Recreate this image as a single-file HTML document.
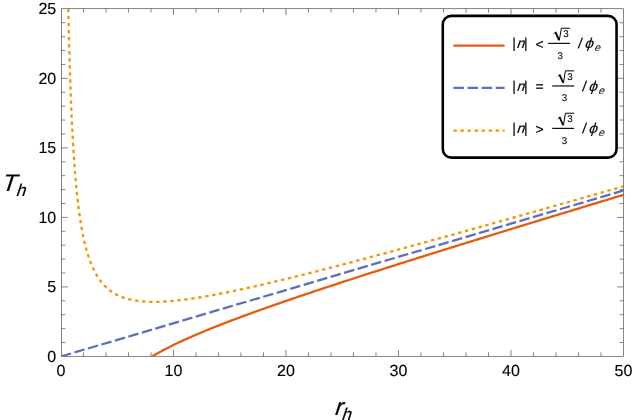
<!DOCTYPE html><html><head><meta charset="utf-8"><title>plot</title><style>html,body{margin:0;padding:0;background:#fff}svg{display:block;will-change:transform}text{font-family:"Liberation Sans",sans-serif;fill:#000;text-rendering:geometricPrecision}</style></head><body>
<svg width="634" height="420" viewBox="0 0 634 420">
<rect width="634" height="420" fill="#fff"/>
<clipPath id="c"><rect x="61.45" y="8.70" width="562.05" height="347.60"/></clipPath>
<g fill="none" stroke-width="2.3" stroke-linecap="butt" stroke-linejoin="round" clip-path="url(#c)">
<path d="M152.14 356.45 L152.14 356.45 L152.15 356.44 L152.17 356.43 L152.19 356.42 L152.21 356.41 L152.25 356.39 L152.28 356.36 L152.33 356.34 L152.38 356.31 L152.43 356.28 L152.50 356.24 L152.56 356.20 L152.64 356.16 L152.72 356.11 L152.80 356.06 L152.89 356.01 L152.99 355.95 L153.09 355.89 L153.20 355.83 L153.32 355.76 L153.44 355.69 L153.57 355.62 L153.70 355.54 L153.84 355.46 L153.98 355.37 L154.13 355.29 L154.29 355.20 L154.45 355.10 L154.62 355.01 L154.79 354.91 L154.97 354.80 L155.16 354.70 L155.35 354.59 L155.54 354.48 L155.75 354.36 L155.96 354.24 L156.17 354.12 L156.39 354.00 L156.62 353.87 L156.85 353.74 L157.09 353.60 L157.34 353.47 L157.59 353.33 L157.84 353.18 L158.10 353.04 L158.37 352.89 L158.65 352.74 L158.93 352.58 L159.21 352.43 L159.50 352.27 L159.80 352.10 L160.11 351.94 L160.41 351.77 L160.73 351.60 L161.05 351.43 L161.38 351.25 L161.71 351.07 L162.05 350.89 L162.39 350.70 L162.74 350.52 L163.10 350.33 L163.46 350.14 L163.83 349.94 L164.21 349.75 L164.59 349.55 L164.97 349.34 L165.36 349.14 L165.76 348.93 L166.17 348.72 L166.57 348.51 L166.99 348.30 L167.41 348.08 L167.84 347.87 L168.27 347.65 L168.71 347.42 L169.16 347.20 L169.61 346.97 L170.06 346.74 L170.53 346.51 L170.99 346.28 L171.47 346.04 L171.95 345.80 L172.43 345.56 L172.93 345.32 L173.42 345.08 L173.93 344.83 L174.44 344.58 L174.95 344.33 L175.47 344.08 L176.00 343.83 L176.54 343.57 L177.07 343.32 L177.62 343.06 L178.17 342.79 L178.73 342.53 L179.29 342.27 L179.86 342.00 L180.43 341.73 L181.01 341.46 L181.60 341.19 L182.19 340.91 L182.79 340.64 L183.39 340.36 L184.00 340.08 L184.62 339.80 L185.24 339.52 L185.87 339.23 L186.50 338.95 L187.14 338.66 L187.79 338.37 L188.44 338.08 L189.09 337.79 L189.76 337.49 L190.43 337.20 L191.10 336.90 L191.78 336.60 L192.47 336.30 L193.16 336.00 L193.86 335.70 L194.56 335.39 L195.27 335.08 L195.99 334.78 L196.71 334.47 L197.44 334.16 L198.17 333.84 L198.91 333.53 L199.66 333.21 L200.41 332.90 L201.16 332.58 L201.93 332.26 L202.70 331.94 L203.47 331.61 L204.25 331.29 L205.04 330.96 L205.83 330.64 L206.63 330.31 L207.43 329.98 L208.24 329.65 L209.06 329.32 L209.88 328.98 L210.71 328.65 L211.54 328.31 L212.38 327.97 L213.23 327.63 L214.08 327.29 L214.94 326.95 L215.80 326.61 L216.67 326.26 L217.54 325.91 L218.42 325.57 L219.31 325.22 L220.20 324.87 L221.10 324.52 L222.01 324.16 L222.92 323.81 L223.83 323.45 L224.76 323.10 L225.68 322.74 L226.62 322.38 L227.56 322.02 L228.50 321.66 L229.45 321.29 L230.41 320.93 L231.37 320.56 L232.34 320.19 L233.32 319.83 L234.30 319.46 L235.29 319.08 L236.28 318.71 L237.28 318.34 L238.28 317.96 L239.29 317.59 L240.31 317.21 L241.33 316.83 L242.36 316.45 L243.39 316.07 L244.43 315.68 L245.48 315.30 L246.53 314.91 L247.59 314.53 L248.65 314.14 L249.72 313.75 L250.80 313.36 L251.88 312.97 L252.97 312.57 L254.06 312.18 L255.16 311.78 L256.26 311.38 L257.37 310.99 L258.49 310.59 L259.61 310.18 L260.74 309.78 L261.87 309.38 L263.02 308.97 L264.16 308.57 L265.31 308.16 L266.47 307.75 L267.63 307.34 L268.80 306.93 L269.98 306.51 L271.16 306.10 L272.35 305.68 L273.54 305.27 L274.74 304.85 L275.95 304.43 L277.16 304.01 L278.37 303.58 L279.60 303.16 L280.82 302.73 L282.06 302.31 L283.30 301.88 L284.54 301.45 L285.80 301.02 L287.05 300.59 L288.32 300.16 L289.59 299.72 L290.86 299.29 L292.15 298.85 L293.43 298.41 L294.73 297.97 L296.03 297.53 L297.33 297.09 L298.64 296.64 L299.96 296.20 L301.28 295.75 L302.61 295.30 L303.94 294.85 L305.28 294.40 L306.63 293.95 L307.98 293.49 L309.34 293.04 L310.70 292.58 L312.07 292.13 L313.45 291.67 L314.83 291.21 L316.22 290.74 L317.61 290.28 L319.01 289.82 L320.42 289.35 L321.83 288.88 L323.25 288.41 L324.67 287.94 L326.10 287.47 L327.53 287.00 L328.97 286.52 L330.42 286.05 L331.87 285.57 L333.33 285.09 L334.79 284.61 L336.26 284.13 L337.74 283.65 L339.22 283.16 L340.71 282.68 L342.20 282.19 L343.70 281.70 L345.21 281.21 L346.72 280.72 L348.24 280.23 L349.76 279.73 L351.29 279.24 L352.82 278.74 L354.36 278.24 L355.91 277.74 L357.46 277.24 L359.02 276.73 L360.59 276.23 L362.16 275.72 L363.73 275.22 L365.32 274.71 L366.90 274.20 L368.50 273.69 L370.10 273.17 L371.70 272.66 L373.31 272.14 L374.93 271.62 L376.55 271.10 L378.18 270.58 L379.82 270.06 L381.46 269.54 L383.11 269.01 L384.76 268.49 L386.42 267.96 L388.08 267.43 L389.75 266.90 L391.43 266.37 L393.11 265.83 L394.80 265.30 L396.49 264.76 L398.19 264.22 L399.90 263.68 L401.61 263.14 L403.33 262.60 L405.05 262.05 L406.78 261.51 L408.52 260.96 L410.26 260.41 L412.00 259.86 L413.76 259.31 L415.51 258.75 L417.28 258.20 L419.05 257.64 L420.83 257.09 L422.61 256.53 L424.40 255.96 L426.19 255.40 L427.99 254.84 L429.80 254.27 L431.61 253.71 L433.43 253.14 L435.25 252.57 L437.08 252.00 L438.92 251.42 L440.76 250.85 L442.60 250.27 L444.46 249.69 L446.32 249.11 L448.18 248.53 L450.05 247.95 L451.93 247.37 L453.81 246.78 L455.70 246.19 L457.59 245.61 L459.49 245.02 L461.40 244.42 L463.31 243.83 L465.23 243.24 L467.15 242.64 L469.08 242.04 L471.02 241.44 L472.96 240.84 L474.91 240.24 L476.86 239.63 L478.82 239.03 L480.78 238.42 L482.75 237.81 L484.73 237.20 L486.71 236.59 L488.70 235.98 L490.70 235.36 L492.70 234.74 L494.70 234.13 L496.72 233.51 L498.73 232.88 L500.76 232.26 L502.79 231.64 L504.82 231.01 L506.86 230.38 L508.91 229.75 L510.97 229.12 L513.02 228.49 L515.09 227.86 L517.16 227.22 L519.24 226.58 L521.32 225.95 L523.41 225.31 L525.50 224.66 L527.60 224.02 L529.71 223.37 L531.82 222.73 L533.94 222.08 L536.07 221.43 L538.20 220.78 L540.33 220.12 L542.47 219.47 L544.62 218.81 L546.77 218.16 L548.93 217.50 L551.10 216.84 L553.27 216.17 L555.45 215.51 L557.63 214.84 L559.82 214.18 L562.01 213.51 L564.21 212.84 L566.42 212.16 L568.63 211.49 L570.85 210.81 L573.08 210.14 L575.31 209.46 L577.54 208.78 L579.78 208.09 L582.03 207.41 L584.29 206.73 L586.55 206.04 L588.81 205.35 L591.08 204.66 L593.36 203.97 L595.64 203.28 L597.93 202.58 L600.23 201.88 L602.53 201.19 L604.83 200.49 L607.15 199.78 L609.47 199.08 L611.79 198.38 L614.12 197.67 L616.46 196.96 L618.80 196.25 L621.15 195.54 L623.50 194.83" stroke="#E65C0E"/>
<path d="M60.97 356.45 L623.50 190.47" stroke="#5D6DC1" stroke-dasharray="10.5 3.56"/>
<path d="M68.29 8.82 L68.29 8.99 L68.30 9.47 L68.32 10.28 L68.34 11.41 L68.37 12.85 L68.41 14.59 L68.46 16.62 L68.51 18.94 L68.57 21.52 L68.63 24.37 L68.71 27.45 L68.78 30.77 L68.87 34.29 L68.97 38.01 L69.07 41.91 L69.17 45.97 L69.29 50.18 L69.41 54.52 L69.54 58.97 L69.67 63.51 L69.82 68.14 L69.96 72.84 L70.12 77.59 L70.28 82.37 L70.45 87.19 L70.63 92.02 L70.81 96.85 L71.01 101.68 L71.20 106.48 L71.41 111.27 L71.62 116.02 L71.84 120.73 L72.06 125.39 L72.30 129.99 L72.54 134.54 L72.78 139.03 L73.04 143.44 L73.30 147.79 L73.56 152.06 L73.84 156.26 L74.12 160.37 L74.41 164.41 L74.70 168.36 L75.00 172.23 L75.31 176.02 L75.63 179.72 L75.95 183.34 L76.28 186.88 L76.62 190.33 L76.96 193.70 L77.31 196.98 L77.67 200.19 L78.03 203.31 L78.40 206.36 L78.78 209.32 L79.17 212.21 L79.56 215.03 L79.96 217.77 L80.36 220.43 L80.78 223.03 L81.20 225.55 L81.62 228.01 L82.06 230.40 L82.50 232.72 L82.95 234.98 L83.40 237.18 L83.86 239.31 L84.33 241.39 L84.81 243.41 L85.29 245.37 L85.78 247.27 L86.27 249.13 L86.78 250.92 L87.29 252.67 L87.80 254.37 L88.33 256.02 L88.86 257.62 L89.40 259.18 L89.94 260.69 L90.49 262.16 L91.05 263.58 L91.62 264.97 L92.19 266.31 L92.77 267.61 L93.36 268.88 L93.95 270.11 L94.55 271.30 L95.16 272.46 L95.77 273.58 L96.39 274.67 L97.02 275.73 L97.66 276.76 L98.30 277.75 L98.95 278.72 L99.60 279.66 L100.27 280.56 L100.94 281.45 L101.61 282.30 L102.30 283.13 L102.99 283.93 L103.68 284.70 L104.39 285.46 L105.10 286.19 L105.82 286.89 L106.54 287.57 L107.28 288.24 L108.01 288.88 L108.76 289.49 L109.51 290.09 L110.27 290.67 L111.04 291.23 L111.81 291.77 L112.59 292.29 L113.38 292.80 L114.18 293.28 L114.98 293.75 L115.79 294.20 L116.60 294.64 L117.43 295.06 L118.25 295.46 L119.09 295.85 L119.93 296.22 L120.78 296.58 L121.64 296.93 L122.51 297.26 L123.38 297.58 L124.25 297.88 L125.14 298.17 L126.03 298.45 L126.93 298.71 L127.84 298.96 L128.75 299.20 L129.67 299.43 L130.59 299.65 L131.53 299.85 L132.47 300.05 L133.42 300.23 L134.37 300.40 L135.33 300.56 L136.30 300.72 L137.27 300.86 L138.26 300.99 L139.25 301.11 L140.24 301.22 L141.24 301.33 L142.25 301.42 L143.27 301.51 L144.29 301.58 L145.32 301.65 L146.36 301.71 L147.41 301.76 L148.46 301.80 L149.52 301.83 L150.58 301.86 L151.65 301.87 L152.73 301.88 L153.82 301.89 L154.91 301.88 L156.01 301.87 L157.12 301.85 L158.23 301.82 L159.35 301.79 L160.48 301.75 L161.62 301.70 L162.76 301.64 L163.91 301.58 L165.06 301.52 L166.23 301.44 L167.39 301.36 L168.57 301.27 L169.75 301.18 L170.94 301.08 L172.14 300.98 L173.35 300.87 L174.56 300.75 L175.77 300.63 L177.00 300.50 L178.23 300.36 L179.47 300.22 L180.72 300.08 L181.97 299.93 L183.23 299.77 L184.50 299.61 L185.77 299.45 L187.05 299.27 L188.34 299.10 L189.63 298.92 L190.93 298.73 L192.24 298.54 L193.56 298.34 L194.88 298.14 L196.21 297.93 L197.54 297.72 L198.89 297.51 L200.24 297.29 L201.59 297.06 L202.96 296.84 L204.33 296.60 L205.70 296.36 L207.09 296.12 L208.48 295.88 L209.88 295.62 L211.28 295.37 L212.70 295.11 L214.12 294.85 L215.54 294.58 L216.98 294.31 L218.42 294.03 L219.86 293.75 L221.32 293.47 L222.78 293.18 L224.25 292.89 L225.72 292.59 L227.20 292.29 L228.69 291.99 L230.19 291.68 L231.69 291.37 L233.20 291.05 L234.71 290.74 L236.24 290.41 L237.77 290.09 L239.31 289.76 L240.85 289.43 L242.40 289.09 L243.96 288.75 L245.52 288.40 L247.10 288.06 L248.67 287.71 L250.26 287.35 L251.85 286.99 L253.45 286.63 L255.06 286.27 L256.67 285.90 L258.29 285.53 L259.92 285.16 L261.56 284.78 L263.20 284.40 L264.85 284.01 L266.50 283.62 L268.16 283.23 L269.83 282.84 L271.51 282.44 L273.19 282.04 L274.88 281.64 L276.58 281.23 L278.28 280.82 L279.99 280.41 L281.71 279.99 L283.43 279.57 L285.17 279.15 L286.90 278.73 L288.65 278.30 L290.40 277.87 L292.16 277.43 L293.93 276.99 L295.70 276.55 L297.48 276.11 L299.27 275.66 L301.06 275.22 L302.86 274.76 L304.67 274.31 L306.49 273.85 L308.31 273.39 L310.14 272.93 L311.97 272.46 L313.82 271.99 L315.66 271.52 L317.52 271.04 L319.38 270.57 L321.25 270.09 L323.13 269.60 L325.02 269.12 L326.91 268.63 L328.81 268.14 L330.71 267.64 L332.62 267.14 L334.54 266.64 L336.47 266.14 L338.40 265.64 L340.34 265.13 L342.29 264.62 L344.24 264.10 L346.20 263.59 L348.17 263.07 L350.14 262.55 L352.12 262.02 L354.11 261.50 L356.11 260.97 L358.11 260.44 L360.12 259.90 L362.14 259.36 L364.16 258.82 L366.19 258.28 L368.23 257.74 L370.27 257.19 L372.32 256.64 L374.38 256.09 L376.44 255.53 L378.51 254.97 L380.59 254.41 L382.68 253.85 L384.77 253.28 L386.87 252.72 L388.98 252.15 L391.09 251.57 L393.21 251.00 L395.34 250.42 L397.47 249.84 L399.61 249.25 L401.76 248.67 L403.92 248.08 L406.08 247.49 L408.25 246.90 L410.42 246.30 L412.61 245.70 L414.79 245.10 L416.99 244.50 L419.19 243.90 L421.41 243.29 L423.62 242.68 L425.85 242.07 L428.08 241.45 L430.32 240.83 L432.56 240.21 L434.81 239.59 L437.07 238.97 L439.34 238.34 L441.61 237.71 L443.89 237.08 L446.18 236.44 L448.47 235.81 L450.77 235.17 L453.08 234.53 L455.39 233.88 L457.72 233.24 L460.04 232.59 L462.38 231.94 L464.72 231.28 L467.07 230.63 L469.43 229.97 L471.79 229.31 L474.16 228.65 L476.54 227.98 L478.92 227.31 L481.31 226.64 L483.71 225.97 L486.12 225.30 L488.53 224.62 L490.95 223.94 L493.37 223.26 L495.80 222.58 L498.24 221.89 L500.69 221.20 L503.14 220.51 L505.60 219.82 L508.07 219.12 L510.55 218.43 L513.03 217.73 L515.51 217.02 L518.01 216.32 L520.51 215.61 L523.02 214.90 L525.54 214.19 L528.06 213.48 L530.59 212.76 L533.12 212.05 L535.67 211.32 L538.22 210.60 L540.78 209.88 L543.34 209.15 L545.91 208.42 L548.49 207.69 L551.08 206.95 L553.67 206.22 L556.27 205.48 L558.87 204.74 L561.49 204.00 L564.11 203.25 L566.73 202.50 L569.37 201.75 L572.01 201.00 L574.65 200.25 L577.31 199.49 L579.97 198.73 L582.64 197.97 L585.32 197.21 L588.00 196.44 L590.69 195.67 L593.38 194.90 L596.09 194.13 L598.80 193.36 L601.51 192.58 L604.24 191.80 L606.97 191.02 L609.71 190.24 L612.45 189.45 L615.20 188.67 L617.96 187.88 L620.73 187.08 L623.50 186.29" stroke="#F19700" stroke-dasharray="3.4 3.65"/>
</g>
<g stroke="#505050" fill="none">
<rect x="61.45" y="8.70" width="562.05" height="347.60" stroke-width="0.7"/>
<path d="M83.47 356.30 v-3.90 M83.47 8.70 v3.90 M105.97 356.30 v-3.90 M105.97 8.70 v3.90 M128.47 356.30 v-3.90 M128.47 8.70 v3.90 M150.97 356.30 v-3.90 M150.97 8.70 v3.90 M173.48 356.30 v-6.40 M173.48 8.70 v6.40 M195.98 356.30 v-3.90 M195.98 8.70 v3.90 M218.48 356.30 v-3.90 M218.48 8.70 v3.90 M240.98 356.30 v-3.90 M240.98 8.70 v3.90 M263.48 356.30 v-3.90 M263.48 8.70 v3.90 M285.98 356.30 v-6.40 M285.98 8.70 v6.40 M308.48 356.30 v-3.90 M308.48 8.70 v3.90 M330.98 356.30 v-3.90 M330.98 8.70 v3.90 M353.49 356.30 v-3.90 M353.49 8.70 v3.90 M375.99 356.30 v-3.90 M375.99 8.70 v3.90 M398.49 356.30 v-6.40 M398.49 8.70 v6.40 M420.99 356.30 v-3.90 M420.99 8.70 v3.90 M443.49 356.30 v-3.90 M443.49 8.70 v3.90 M465.99 356.30 v-3.90 M465.99 8.70 v3.90 M488.49 356.30 v-3.90 M488.49 8.70 v3.90 M510.99 356.30 v-6.40 M510.99 8.70 v6.40 M533.50 356.30 v-3.90 M533.50 8.70 v3.90 M556.00 356.30 v-3.90 M556.00 8.70 v3.90 M578.50 356.30 v-3.90 M578.50 8.70 v3.90 M601.00 356.30 v-3.90 M601.00 8.70 v3.90 M61.45 342.54 h3.90 M623.50 342.54 h-3.90 M61.45 328.64 h3.90 M623.50 328.64 h-3.90 M61.45 314.73 h3.90 M623.50 314.73 h-3.90 M61.45 300.83 h3.90 M623.50 300.83 h-3.90 M61.45 286.92 h6.40 M623.50 286.92 h-6.40 M61.45 273.02 h3.90 M623.50 273.02 h-3.90 M61.45 259.11 h3.90 M623.50 259.11 h-3.90 M61.45 245.21 h3.90 M623.50 245.21 h-3.90 M61.45 231.30 h3.90 M623.50 231.30 h-3.90 M61.45 217.40 h6.40 M623.50 217.40 h-6.40 M61.45 203.49 h3.90 M623.50 203.49 h-3.90 M61.45 189.59 h3.90 M623.50 189.59 h-3.90 M61.45 175.68 h3.90 M623.50 175.68 h-3.90 M61.45 161.78 h3.90 M623.50 161.78 h-3.90 M61.45 147.87 h6.40 M623.50 147.87 h-6.40 M61.45 133.97 h3.90 M623.50 133.97 h-3.90 M61.45 120.06 h3.90 M623.50 120.06 h-3.90 M61.45 106.16 h3.90 M623.50 106.16 h-3.90 M61.45 92.25 h3.90 M623.50 92.25 h-3.90 M61.45 78.35 h6.40 M623.50 78.35 h-6.40 M61.45 64.44 h3.90 M623.50 64.44 h-3.90 M61.45 50.54 h3.90 M623.50 50.54 h-3.90 M61.45 36.63 h3.90 M623.50 36.63 h-3.90 M61.45 22.73 h3.90 M623.50 22.73 h-3.90" stroke-width="0.7"/>
</g>
<g font-size="16" stroke="#000" stroke-width="0.12">
<text x="60.97" y="375.8" text-anchor="middle">0</text>
<text x="173.48" y="375.8" text-anchor="middle">10</text>
<text x="285.98" y="375.8" text-anchor="middle">20</text>
<text x="398.49" y="375.8" text-anchor="middle">30</text>
<text x="510.99" y="375.8" text-anchor="middle">40</text>
<text x="623.50" y="375.8" text-anchor="middle">50</text>
<text x="56.2" y="361.90" text-anchor="end">0</text>
<text x="56.2" y="292.37" text-anchor="end">5</text>
<text x="56.2" y="222.85" text-anchor="end">10</text>
<text x="56.2" y="153.32" text-anchor="end">15</text>
<text x="56.2" y="83.80" text-anchor="end">20</text>
<text x="56.2" y="14.27" text-anchor="end">25</text>
</g>
<text transform="translate(0.60 190.80) skewX(-18)" font-size="24" stroke="#000" stroke-width="0.2">T</text><text transform="translate(15.40 195.80) skewX(-18)" font-size="17" stroke="#000" stroke-width="0.2">h</text>
<text transform="translate(333.50 414.50) skewX(-18)" font-size="24" stroke="#000" stroke-width="0.2">r</text><text transform="translate(341.00 419.60) skewX(-18)" font-size="17" stroke="#000" stroke-width="0.2">h</text>
<rect x="442.8" y="15.85" width="173.75" height="141.75" rx="8.5" ry="8.5" fill="#fff" stroke="#000" stroke-width="2.6"/>
<path d="M453.4 45.70 H504.6" stroke="#E65C0E" stroke-width="2.3" fill="none"/>
<g font-size="14" stroke="#000" stroke-width="0.15">
<text x="512.2" y="48.10">|</text>
<text transform="translate(516.30 48.10) skewX(-18)" font-size="14" stroke="#000" stroke-width="0.2">n</text>
<text x="524.1" y="48.10">|</text>
<text x="535.4" y="48.80">&lt;</text>
<path d="M548.10 43.37 h21.90" stroke="#000" stroke-width="1.15" fill="none"/>
<g transform="translate(548.10 43.37)" stroke="#000" fill="none">
<path d="M5.3 -9.5 L7.6 -11.2" stroke-width="0.7"/>
<path d="M7.3 -11.4 L10.9 -3.3" stroke-width="1.8"/>
<path d="M11.15 -2.9 L13.25 -15.12 H21.9" stroke-width="1.0" stroke-linejoin="miter"/>
</g>
<text x="565.90" y="37.22" font-size="9.8" text-anchor="middle" stroke="#000" stroke-width="0.08">3</text>
<text x="560.30" y="58.67" font-size="9.8" text-anchor="middle" stroke="#000" stroke-width="0.08">3</text>
<text transform="translate(577.80 48.10) skewX(-7)">/</text>
<text transform="translate(584.00 48.40) skewX(-18) scale(1.13 1)" font-size="14" stroke="#000" stroke-width="0.05">&#981;</text>
<text transform="translate(593.90 51.30) skewX(-18)" font-size="10.6" stroke="#000" stroke-width="0">e</text>
</g>
<path d="M453.4 87.90 H504.6" stroke="#5D6DC1" stroke-width="2.3" fill="none" stroke-dasharray="10.5 3.6"/>
<g font-size="14" stroke="#000" stroke-width="0.15">
<text x="512.2" y="90.70">|</text>
<text transform="translate(516.30 90.70) skewX(-18)" font-size="14" stroke="#000" stroke-width="0.2">n</text>
<text x="524.1" y="90.70">|</text>
<text x="535.4" y="91.40">=</text>
<path d="M552.20 85.97 h21.90" stroke="#000" stroke-width="1.15" fill="none"/>
<g transform="translate(552.20 85.97)" stroke="#000" fill="none">
<path d="M5.3 -9.5 L7.6 -11.2" stroke-width="0.7"/>
<path d="M7.3 -11.4 L10.9 -3.3" stroke-width="1.8"/>
<path d="M11.15 -2.9 L13.25 -15.12 H21.9" stroke-width="1.0" stroke-linejoin="miter"/>
</g>
<text x="570.00" y="79.82" font-size="9.8" text-anchor="middle" stroke="#000" stroke-width="0.08">3</text>
<text x="564.40" y="101.27" font-size="9.8" text-anchor="middle" stroke="#000" stroke-width="0.08">3</text>
<text transform="translate(581.90 90.70) skewX(-7)">/</text>
<text transform="translate(588.10 91.00) skewX(-18) scale(1.13 1)" font-size="14" stroke="#000" stroke-width="0.05">&#981;</text>
<text transform="translate(598.00 93.90) skewX(-18)" font-size="10.6" stroke="#000" stroke-width="0">e</text>
</g>
<path d="M453.4 130.60 H504.6" stroke="#F19700" stroke-width="2.3" fill="none" stroke-dasharray="3.4 3.65"/>
<g font-size="14" stroke="#000" stroke-width="0.15">
<text x="512.2" y="133.10">|</text>
<text transform="translate(516.30 133.10) skewX(-18)" font-size="14" stroke="#000" stroke-width="0.2">n</text>
<text x="524.1" y="133.10">|</text>
<text x="535.4" y="133.80">&gt;</text>
<path d="M552.20 128.37 h21.90" stroke="#000" stroke-width="1.15" fill="none"/>
<g transform="translate(552.20 128.37)" stroke="#000" fill="none">
<path d="M5.3 -9.5 L7.6 -11.2" stroke-width="0.7"/>
<path d="M7.3 -11.4 L10.9 -3.3" stroke-width="1.8"/>
<path d="M11.15 -2.9 L13.25 -15.12 H21.9" stroke-width="1.0" stroke-linejoin="miter"/>
</g>
<text x="570.00" y="122.22" font-size="9.8" text-anchor="middle" stroke="#000" stroke-width="0.08">3</text>
<text x="564.40" y="143.67" font-size="9.8" text-anchor="middle" stroke="#000" stroke-width="0.08">3</text>
<text transform="translate(581.90 133.10) skewX(-7)">/</text>
<text transform="translate(588.10 133.40) skewX(-18) scale(1.13 1)" font-size="14" stroke="#000" stroke-width="0.05">&#981;</text>
<text transform="translate(598.00 136.30) skewX(-18)" font-size="10.6" stroke="#000" stroke-width="0">e</text>
</g>
</svg></body></html>
